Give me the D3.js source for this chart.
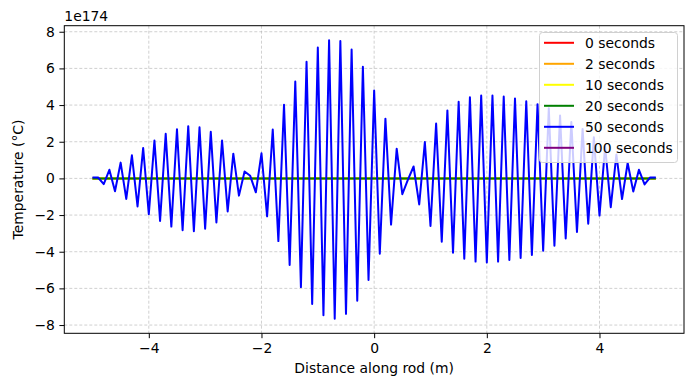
<!DOCTYPE html>
<html>
<head>
<meta charset="utf-8">
<script src="https://cdn.jsdelivr.net/npm/d3@7"></script>
<style>
  body { margin: 0; background: #fff; }
  svg text { font-family: "DejaVu Sans", sans-serif; fill: #000; }
</style>
</head>
<body>
<div class="chart"></div>
<script>
// rod positions (m), -5 .. 5 every 0.1
const positions = d3.range(101).map(i => -5 + i * 0.1);

// temperature at 50 s, in units of 1e174
const temp50 = [
  0.05, 0.05, -0.31, 0.47, -0.70, 0.86, -1.12, 1.26, -1.53, 1.66,
  -1.95, 2.07, -2.32, 2.43, -2.63, 2.68, -2.83, 2.85, -2.88, 2.79,
  -2.74, 2.54, -2.40, 2.07, -1.80, 1.35, -0.94, 0.38, 0.14, -0.76,
  1.37, -2.07, 2.67, -3.42, 4.02, -4.72, 5.28, -5.93, 6.36, -6.85,
  7.14, -7.46, 7.53, -7.66, 7.50, -7.39, 7.03, -6.67, 6.09, -5.54,
  4.79, -4.11, 3.26, -2.52, 1.62, -0.86, -0.07, 0.65, -1.42, 1.98,
  -2.59, 2.99, -3.46, 3.71, -4.05, 4.18, -4.38, 4.43, -4.54, 4.52,
  -4.59, 4.52, -4.54, 4.47, -4.45, 4.36, -4.34, 4.21, -4.18, 4.05,
  -3.95, 3.82, -3.67, 3.43, -3.28, 3.08, -2.92, 2.70, -2.47, 2.24,
  -2.03, 1.74, -1.57, 1.30, -1.13, 0.84, -0.72, 0.47, -0.33, 0.05,
  0.05
];
// earlier snapshots are ~0 on this scale, 100 s has no finite values
const tempFlat = positions.map(() => 0);
const temp100 = positions.map(() => NaN);

const seriesLabels = ['0 seconds', '2 seconds', '10 seconds', '20 seconds', '50 seconds', '100 seconds'];
const seriesColors = ['red', 'orange', 'yellow', 'green', 'blue', 'purple'];
const seriesValues = [tempFlat, tempFlat, tempFlat, tempFlat, temp50, temp100];

const xTicks = [-4, -2, 0, 2, 4];
const yTicks = [-8, -6, -4, -2, 0, 2, 4, 6, 8];

const svg_width = 693, svg_height = 386;
const margin = {top: 25.7, right: 9, bottom: 52.7, left: 64.3};
const chart_width = svg_width - margin.left - margin.right;
const chart_height = svg_height - margin.top - margin.bottom;

const svg = d3.select('.chart').append('svg')
  .attr('width', svg_width).attr('height', svg_height);
const g = svg.append('g').attr('transform', `translate(${margin.left},${margin.top})`);

const xScale = d3.scaleLinear().domain([-5.5, 5.5]).range([0, chart_width]);
const yScale = d3.scaleLinear().domain([-8.45, 8.33]).range([chart_height, 0]);

// grid
g.append('g').selectAll('line.gx').data(xTicks).enter().append('line')
  .attr('x1', d => xScale(d)).attr('x2', d => xScale(d))
  .attr('y1', 0).attr('y2', chart_height)
  .attr('stroke', '#b0b0b0').attr('stroke-width', 0.6).attr('stroke-dasharray', '3,2');
g.append('g').selectAll('line.gy').data(yTicks).enter().append('line')
  .attr('y1', d => yScale(d)).attr('y2', d => yScale(d))
  .attr('x1', 0).attr('x2', chart_width)
  .attr('stroke', '#b0b0b0').attr('stroke-width', 0.6).attr('stroke-dasharray', '3,2');

// lines
const line = d3.line()
  .defined(d => Number.isFinite(d[1]))
  .x(d => xScale(d[0])).y(d => yScale(d[1]));
seriesValues.forEach((vals, k) => {
  g.append('path')
    .datum(positions.map((x, i) => [x, vals[i]]))
    .attr('d', line)
    .attr('fill', 'none')
    .attr('stroke', seriesColors[k])
    .attr('stroke-width', 2)
    .attr('stroke-linejoin', 'round');
});

// axes
const fmt = d => d3.format('d')(d).replace('-', '\u2212');
const xAxis = d3.axisBottom(xScale).tickValues(xTicks).tickFormat(fmt)
  .tickSizeInner(4.9).tickSizeOuter(0).tickPadding(4.5);
const yAxis = d3.axisLeft(yScale).tickValues(yTicks).tickFormat(fmt)
  .tickSizeInner(4.9).tickSizeOuter(0).tickPadding(4.5);
const xAxisDraw = g.append('g').attr('transform', `translate(0,${chart_height})`).call(xAxis);
const yAxisDraw = g.append('g').call(yAxis);
[xAxisDraw, yAxisDraw].forEach(a => {
  a.select('.domain').remove();
  a.selectAll('line').attr('stroke', '#000').attr('stroke-width', 1);
  a.selectAll('text').style('font-size', '13.9px').attr('fill', '#000');
});

// frame
g.append('rect').attr('width', chart_width).attr('height', chart_height)
  .attr('fill', 'none').attr('stroke', '#000').attr('stroke-width', 1);

// labels
svg.append('text').attr('x', 64.3).attr('y', 21).style('font-size', '13.9px').text('1e174');
svg.append('text')
  .attr('transform', `translate(23,${margin.top + chart_height / 2}) rotate(-90)`)
  .attr('text-anchor', 'middle').style('font-size', '13.9px')
  .text('Temperature (°C)');
svg.append('text').attr('x', margin.left + xScale(0)).attr('y', 373)
  .attr('text-anchor', 'middle').style('font-size', '13.9px')
  .text('Distance along rod (m)');

// legend
const legend = svg.append('g').attr('transform', 'translate(539.5,32.5)');
legend.append('rect').attr('width', 138).attr('height', 130).attr('rx', 3)
  .attr('fill', 'rgba(255,255,255,0.8)').attr('stroke', '#d0d0d0').attr('stroke-width', 1);
seriesLabels.forEach((lab, k) => {
  const y = 10.3 + k * 21;
  legend.append('line').attr('x1', 4.5).attr('x2', 34.5).attr('y1', y).attr('y2', y)
    .attr('stroke', seriesColors[k]).attr('stroke-width', 2);
  legend.append('text').attr('x', 45.5).attr('y', y + 5).style('font-size', '13.9px').text(lab);
});
</script>
</body>
</html>
